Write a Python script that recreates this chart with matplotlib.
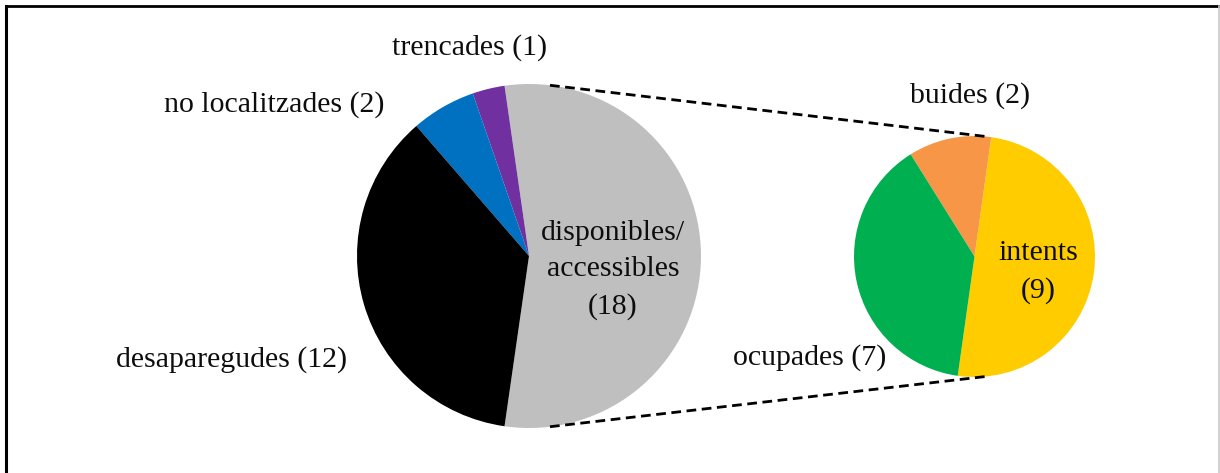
import matplotlib

matplotlib.use("Agg")
import matplotlib.pyplot as plt
import numpy as np

# main pie
MAIN_LABELS = ["disponibles/\naccessibles\n(18)", "trencades (1)", "no localitzades (2)", "desaparegudes (12)"]
MAIN_VALUES = [18, 1, 2, 12]
MAIN_COLORS = ["#BFBFBF", "#7030A0", "#0070C0", "#000000"]

# detail pie (breakdown of disponibles/accessibles)
SUB_LABELS = ["intents\n(9)", "buides (2)", "ocupades (7)"]
SUB_VALUES = [9, 2, 7]
SUB_COLORS = ["#FFCC00", "#F79646", "#00B050"]

W, H = 1220, 473
FONT = "Liberation Serif"
FS = 21.5


def px(x, y):
    # image pixel coords -> data coords (y up)
    return x, H - y


fig = plt.figure(figsize=(W / 100, H / 100), dpi=100)
ax = fig.add_axes([0, 0, 1, 1])
ax.set_axis_off()

main_c, main_r = px(529, 256), 172
sub_c, sub_r = px(974.5, 256.5), 120.5

main_start = -MAIN_VALUES[0] / sum(MAIN_VALUES) * 360 / 2
ax.pie(MAIN_VALUES, colors=MAIN_COLORS, startangle=main_start, counterclock=True,
       center=main_c, radius=main_r, frame=True)
ax.pie(SUB_VALUES, colors=SUB_COLORS, startangle=-98, counterclock=True,
       center=sub_c, radius=sub_r, frame=True)

# connector lines between the two pies
for ang in (83, -83):
    a = np.deg2rad(ang)
    x0 = main_c[0] + main_r * np.cos(a)
    y0 = main_c[1] + main_r * np.sin(a)
    x1 = sub_c[0] + sub_r * np.cos(a)
    y1 = sub_c[1] + sub_r * np.sin(a)
    ax.plot([x0, x1], [y0, y1], color="black", lw=2.0, dashes=(3.5, 2.0), solid_capstyle="butt")

# labels
label_pos = {
    MAIN_LABELS[0]: px(613, 270),
    MAIN_LABELS[1]: px(470, 48),
    MAIN_LABELS[2]: px(274, 105),
    MAIN_LABELS[3]: px(232, 360),
    SUB_LABELS[0]: px(1038, 272),
    SUB_LABELS[1]: px(970, 96),
    SUB_LABELS[2]: px(810, 358),
}
for text, (x, y) in label_pos.items():
    ax.text(x, y, text, ha="center", va="center", fontsize=FS, family=FONT,
            color="#0d0d0d", linespacing=1.5)

ax.set_xlim(0, W)
ax.set_ylim(0, H)
ax.set_aspect("auto")

# outer frame (top/left dark, right light)
ax.plot([6, 6], [0, H - 6], color="black", lw=2.2)
ax.plot([6, W - 1], [H - 6, H - 6], color="black", lw=2.0)
ax.plot([W - 1.5, W - 1.5], [0, H - 6], color="#c8c8c8", lw=1.2)

fig.savefig("out.png", dpi=100)
